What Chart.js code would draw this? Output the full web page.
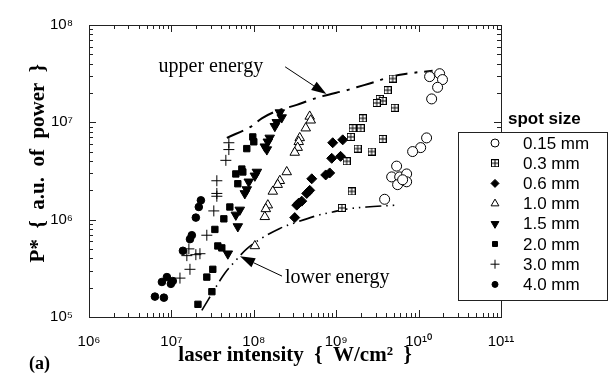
<!DOCTYPE html>
<html><head><meta charset="utf-8">
<script src="https://cdn.jsdelivr.net/npm/chart.js@4.4.1/dist/chart.umd.min.js"></script>
<style>html,body{margin:0;padding:0;background:#fff}#wrap{width:611px;height:387px}</style>
</head><body><div id="wrap"><canvas id="c" width="611" height="387"></canvas></div>
<script>
// ---- data ----
const spotLabels = ['0.15 mm','0.3 mm','0.6 mm','1.0 mm','1.5 mm','2.0 mm','3.0 mm','4.0 mm'];
const xTickValues = [1e6,1e7,1e8,1e9,1e10,1e11];
const yTickValues = [1e5,1e6,1e7,1e8];
const xTickLabels = ['10⁶','10⁷','10⁸','10⁹','10¹⁰','10¹¹'];
const yTickLabels = ['10⁵','10⁶','10⁷','10⁸'];

const int015 = [1.80e10,1.36e10,1.95e10,1.70e10,1.44e10,1.25e10,1.06e10,8.46e9,5.41e9,4.71e9,5.89e9,7.16e9,7.16e9,5.56e9,6.40e9,3.87e9];
const pow015 = [3.16e7,2.95e7,2.75e7,2.29e7,1.74e7,6.92e6,5.50e6,5.01e6,3.55e6,2.75e6,2.75e6,2.95e6,2.45e6,2.29e6,2.57e6,1.62e6];
const int03 = [4.84e9,4.21e9,3.37e9,3.66e9,3.10e9,5.12e9,2.10e9,1.58e9,1.98e9,1.50e9,3.66e9,1.82e9,2.69e9,1.34e9,1.54e9,1.17e9];
const pow03 = [2.82e7,2.14e7,1.74e7,1.66e7,1.58e7,1.41e7,1.10e7,8.71e6,8.71e6,7.08e6,6.76e6,5.37e6,5.01e6,3.98e6,1.95e6,1.32e6];
const int06 = [9.07e8,1.20e9,8.82e8,1.13e9,5.05e8,7.46e8,8.34e8,4.77e8,4.39e8,3.82e8,3.51e8,3.32e8,3.14e8];
const pow06 = [6.17e6,6.61e6,4.27e6,4.47e6,2.63e6,2.88e6,3.02e6,2.00e6,1.86e6,1.55e6,1.48e6,1.41e6,1.05e6];
const int10 = [4.77e8,4.91e8,4.27e8,3.61e8,3.51e8,3.41e8,3.14e8,2.51e8,2.07e8,1.95e8,1.70e8,1.48e8,1.40e8,1.36e8,1.03e8];
const pow10 = [1.15e7,1.05e7,8.71e6,6.92e6,6.31e6,5.50e6,4.90e6,3.09e6,2.51e6,2.29e6,1.95e6,1.41e6,1.29e6,1.07e6,5.37e5];
const int15 = [2.07e8,2.18e8,1.90e8,1.80e8,1.56e8,1.48e8,1.36e8,1.44e8,1.09e8,1.03e8,8.69e7,8.22e7,7.78e7,6.76e7,6.05e7,6.40e7,4.84e7];
const pow15 = [1.26e7,1.12e7,1.0e7,9.12e6,6.92e6,6.31e6,5.62e6,5.25e6,3.09e6,2.82e6,2.45e6,2.04e6,1.86e6,1.26e6,1.12e6,8.51e5,4.47e5];
const int20 = [9.72e7,1.0e8,8.22e7,7.16e7,6.05e7,7.36e7,6.40e7,5.12e7,4.33e7,3.37e7,3.66e7,4.09e7,3.18e7,2.69e7,3.10e7,2.10e7];
const pow20 = [7.08e6,6.31e6,5.37e6,3.31e6,2.95e6,3.09e6,2.34e6,1.35e6,1.02e6,7.94e5,5.37e5,5.13e5,3.09e5,2.57e5,1.82e5,1.35e5];
const int30 = [4.98e7,4.98e7,4.58e7,3.56e7,3.56e7,3.56e7,3.27e7,2.69e7,1.63e7,1.54e7,1.98e7,2.22e7,1.68e7,1.27e7];
const pow30 = [6.17e6,5.25e6,4.07e6,2.51e6,1.86e6,1.74e6,1.23e6,6.92e5,5.01e5,4.27e5,4.37e5,4.47e5,3.09e5,2.51e5];
const int40 = [2.28e7,2.15e7,1.98e7,1.77e7,1.68e7,1.38e7,8.82e6,7.67e6,1.04e7,9.86e6,6.31e6,8.11e6];
const pow40 = [1.58e6,1.35e6,1.05e6,6.92e5,6.31e5,4.79e5,2.57e5,2.29e5,2.34e5,2.19e5,1.62e5,1.58e5];

const upperInt = [4.71e7,9.46e7,1.25e8,1.95e8,3.32e8,4.52e8,6.86e8,1.34e9,1.77e9,2.55e9,4.71e9,7.16e9,1.48e10];
const upperPow = [6.92e6,9.12e6,1.10e7,1.32e7,1.51e7,1.66e7,1.86e7,2.14e7,2.29e7,2.51e7,2.95e7,3.16e7,3.39e7];
const lowerInt = [2.34e7,3.37e7,4.45e7,5.89e7,8.22e7,1.25e8,2.07e8,2.97e8,5.80e8,9.07e8,1.38e9,2.34e9,5.41e9];
const lowerPow = [1.17e5,1.95e5,2.82e5,3.72e5,5.01e5,6.46e5,8.13e5,9.12e5,1.10e6,1.20e6,1.29e6,1.35e6,1.41e6];

const annotUpper = {text:'upper energy', tip:[7.6e8,1.95e7], tail:[2.4e8,3.72e7]};
const annotLower = {text:'lower energy', tip:[6.8e7,4.2e5], tail:[2.2e8,2.63e5]};

// ---- helpers ----
const pts = (xs, ys) => xs.map((x,i)=>({x, y: ys[i]}));
function makeBoxPlus(){
  const c = document.createElement('canvas'); c.width = 8; c.height = 8;
  const g = c.getContext('2d');
  g.strokeStyle = '#000'; g.lineWidth = 1;
  g.fillStyle = '#fff'; g.fillRect(0.5,0.5,7,7);
  g.strokeRect(0.5,0.5,7,7);
  g.beginPath(); g.moveTo(4,0.5); g.lineTo(4,7.5); g.moveTo(0.5,4); g.lineTo(7.5,4); g.stroke();
  return c;
}
const boxPlus = makeBoxPlus();

const markerStyles = [
  {pointStyle:'circle', pointRadius:5, backgroundColor:'#fff', borderColor:'#000', pointBorderWidth:1},
  {pointStyle:boxPlus, pointRadius:4, backgroundColor:'#fff', borderColor:'#000', pointBorderWidth:1},
  {pointStyle:'rectRot', pointRadius:5, backgroundColor:'#000', borderColor:'#000', pointBorderWidth:1},
  {pointStyle:'triangle', pointRadius:5.5, backgroundColor:'#fff', borderColor:'#000', pointBorderWidth:1},
  {pointStyle:'triangle', pointRadius:5.5, rotation:180, backgroundColor:'#000', borderColor:'#000', pointBorderWidth:1},
  {pointStyle:'rect', pointRadius:4.5, backgroundColor:'#000', borderColor:'#000', pointBorderWidth:1},
  {pointStyle:'cross', pointRadius:5.5, backgroundColor:'#000', borderColor:'#000', pointBorderWidth:1},
  {pointStyle:'circle', pointRadius:3.8, backgroundColor:'#000', borderColor:'#000', pointBorderWidth:1}
];
const seriesData = [pts(int015,pow015),pts(int03,pow03),pts(int06,pow06),pts(int10,pow10),pts(int15,pow15),pts(int20,pow20),pts(int30,pow30),pts(int40,pow40)];

const datasets = seriesData.map((d,i)=>{
  const m = markerStyles[i];
  return {label: spotLabels[i], data: d, showLine:false,
    pointStyle: m.pointStyle, pointRadius: m.pointRadius, pointRotation: m.rotation||0,
    pointBackgroundColor: m.backgroundColor, pointBorderColor: m.borderColor, pointBorderWidth: m.pointBorderWidth,
    pointHoverRadius: m.pointRadius};
});
datasets.push({label:'upper', data: pts(upperInt, upperPow), showLine:true, borderColor:'#000', borderWidth:2,
  borderDash:[18,7,3,7], pointRadius:0, tension:0.35, fill:false});
datasets.push({label:'lower', data: pts(lowerInt, lowerPow), showLine:true, borderColor:'#000', borderWidth:1.6,
  borderDash:[16,5,1.5,5,1.5,5], pointRadius:0, tension:0.35, fill:false});

const SERIF = '"Liberation Serif", "Times New Roman", serif';
const SANS = '"Liberation Sans", Arial, sans-serif';

const ticksPlugin = {
  id:'ticksPlugin',
  afterDraw(chart){
    const {ctx, chartArea:a, scales:{x,y}} = chart;
    ctx.save(); ctx.strokeStyle = '#222'; ctx.lineWidth = 1;
    ctx.strokeRect(Math.round(a.left)+0.5, Math.round(a.top)+0.5, Math.round(a.right-a.left), Math.round(a.bottom-a.top));
    ctx.beginPath();
    for (let e=6; e<=11; e++){
      for (let k=1; k<=9; k++){
        const v = k*Math.pow(10,e); if (v>1e11*1.0001) break;
        const px = Math.round(x.getPixelForValue(v))+0.5;
        const L = k===1 ? 7 : 4;
        ctx.moveTo(px, a.bottom); ctx.lineTo(px, a.bottom-L);
        ctx.moveTo(px, a.top); ctx.lineTo(px, a.top+L);
      }
    }
    for (let e=5; e<=8; e++){
      for (let k=1; k<=9; k++){
        const v = k*Math.pow(10,e); if (v>1e8*1.0001) break;
        const py = Math.round(y.getPixelForValue(v))+0.5;
        const L = k===1 ? 7 : 4;
        ctx.moveTo(a.left, py); ctx.lineTo(a.left+L, py);
        ctx.moveTo(a.right, py); ctx.lineTo(a.right-L, py);
      }
    }
    ctx.stroke();
    ctx.restore();
  }
};

function arrow(ctx, x0,y0,x1,y1){
  const ang = Math.atan2(y1-y0, x1-x0);
  const hl = 15, hw = 5;
  const bx = x1 - hl*Math.cos(ang), by = y1 - hl*Math.sin(ang);
  ctx.beginPath(); ctx.moveTo(x0,y0); ctx.lineTo(bx,by); ctx.lineWidth=1; ctx.stroke();
  ctx.beginPath(); ctx.moveTo(x1,y1);
  ctx.lineTo(bx + hw*Math.sin(ang), by - hw*Math.cos(ang));
  ctx.lineTo(bx - hw*Math.sin(ang), by + hw*Math.cos(ang));
  ctx.closePath(); ctx.fill();
}

const annotPlugin = {
  id:'annotPlugin',
  afterDraw(chart){
    const {ctx, scales:{x,y}} = chart;
    ctx.save(); ctx.fillStyle='#000'; ctx.strokeStyle='#000';
    ctx.font = '20px ' + SERIF; ctx.textBaseline='middle';
    let tx = x.getPixelForValue(annotUpper.tail[0]), ty = y.getPixelForValue(annotUpper.tail[1]);
    arrow(ctx, tx, ty, x.getPixelForValue(annotUpper.tip[0]), y.getPixelForValue(annotUpper.tip[1]));
    ctx.textAlign='right'; ctx.fillText(annotUpper.text, tx-22, ty);
    tx = x.getPixelForValue(annotLower.tail[0]); ty = y.getPixelForValue(annotLower.tail[1]);
    arrow(ctx, tx, ty, x.getPixelForValue(annotLower.tip[0]), y.getPixelForValue(annotLower.tip[1]));
    ctx.textAlign='left'; ctx.fillText(annotLower.text, tx+3, ty+2);
    ctx.font = 'bold 18px ' + SERIF; ctx.textAlign='left';
    ctx.fillText('(a)', 29, 364);
    ctx.restore();
  }
};

const legendPlugin = {
  id:'legendPlugin',
  afterDraw(chart){
    const {ctx} = chart;
    ctx.save();
    const bx = 458, by = 132, bw = 149, bh = 168;
    ctx.fillStyle='#fff'; ctx.fillRect(bx,by,bw,bh);
    ctx.strokeStyle='#222'; ctx.lineWidth=1; ctx.strokeRect(bx+0.5,by+0.5,bw,bh);
    ctx.fillStyle='#000'; ctx.font='bold 17px ' + SANS; ctx.textAlign='left'; ctx.textBaseline='middle';
    ctx.fillText('spot size', 508, 119);
    ctx.font='17px ' + SANS;
    for (let i=0;i<8;i++){
      const ds = chart.data.datasets[i];
      const cy = 143 + i*20.2;
      ctx.fillStyle = ds.pointBackgroundColor; ctx.strokeStyle = ds.pointBorderColor; ctx.lineWidth = 1;
      Chart.helpers.drawPoint(ctx, {pointStyle: ds.pointStyle, radius: Math.max(3, ds.pointRadius-1), rotation: ds.pointRotation, borderWidth:1}, 495, cy);
      ctx.fillStyle='#000';
      ctx.fillText(ds.label, 523, cy+1);
    }
    ctx.restore();
  }
};

new Chart(document.getElementById('c'), {
  type:'scatter',
  data:{datasets},
  options:{
    responsive:false, animation:false, devicePixelRatio:1,
    layout:{padding:{left:0, top:17, right:110, bottom:0}},
    plugins:{legend:{display:false}, tooltip:{enabled:false}},
    scales:{
      x:{type:'logarithmic', min:1e6, max:1e11, position:'bottom',
        grid:{display:false, drawTicks:false}, border:{display:false},
        afterBuildTicks: s => { s.ticks = xTickValues.map(v=>({value:v})); },
        afterFit: s => { s.height = 70; },
        ticks:{autoSkip:false, maxRotation:0, padding:16, color:'#000', font:{family:SANS, size:15},
          callback: v => { const i = xTickValues.indexOf(v); return i>=0 ? xTickLabels[i] : ''; }},
        title:{display:true, text:'laser intensity  {  W/cm²  }', color:'#000', font:{family:SERIF, size:21, weight:'bold'}, padding:{top:0,bottom:19}}
      },
      y:{type:'logarithmic', min:1e5, max:1e8, position:'left',
        grid:{display:false, drawTicks:false}, border:{display:false},
        afterBuildTicks: s => { s.ticks = yTickValues.map(v=>({value:v})); },
        afterFit: s => { s.width = 89; },
        ticks:{autoSkip:false, padding:16, color:'#000', font:{family:SANS, size:15},
          callback: v => { const i = yTickValues.indexOf(v); return i>=0 ? yTickLabels[i] : ''; }},
        title:{display:true, text:'   P*  {  a.u.  of  power  }', color:'#000', font:{family:SERIF, size:21, weight:'bold'}, padding:{top:26,bottom:0}}
      }
    }
  },
  plugins:[ticksPlugin, annotPlugin, legendPlugin]
});
</script>
</body></html>
